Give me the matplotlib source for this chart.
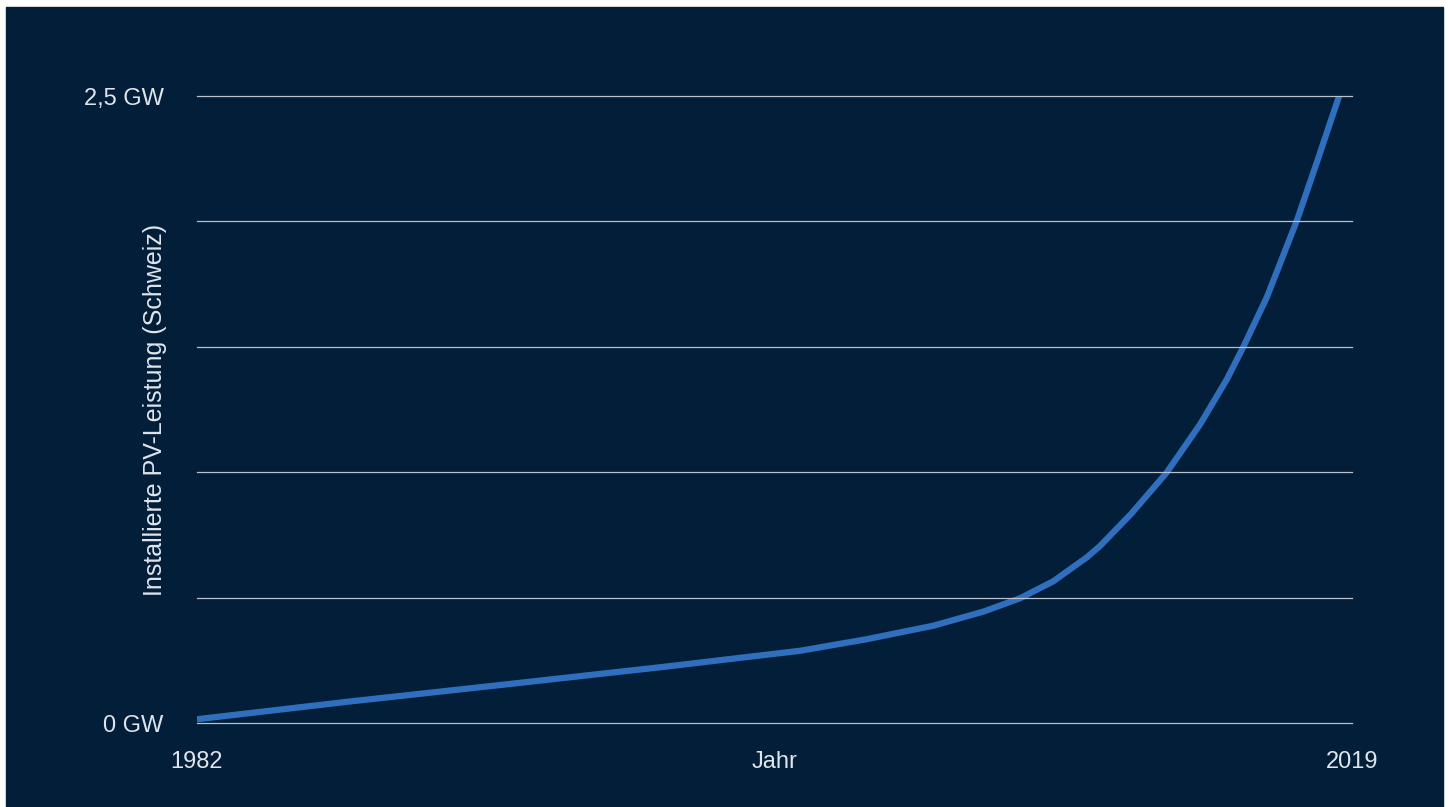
"""Installierte PV-Leistung Schweiz, 1982-2019 (stylised growth curve)."""
import matplotlib
matplotlib.use("Agg")
import matplotlib.pyplot as plt  # noqa: E402
from matplotlib.patches import Rectangle  # noqa: E402

NAVY = "#031e38"
TXT = "#dfe5ec"
GRID = "#b9c2cc"
LINE = "#2f6fbd"

# values
years = [1982.0, 1986.84, 1991.90, 1996.96, 2001.32, 2003.45, 2005.59, 2007.19,
         2008.36, 2009.43, 2010.50, 2010.93, 2011.94, 2013.06, 2014.13, 2014.99,
         2015.52, 2016.27, 2017.23, 2017.87, 2018.59]
gw = [0.015, 0.085, 0.154, 0.224, 0.288, 0.334, 0.388, 0.444,
      0.497, 0.565, 0.660, 0.706, 0.836, 0.998, 1.190, 1.370,
      1.500, 1.697, 2.002, 2.234, 2.501]

grid_vals = [0, 0.5, 1.0, 1.5, 2.0, 2.5]
ytick_vals = [0, 2.5]
ytick_labels = ["0 GW", "2,5 GW"]
xtick_vals = [1982, 2019]
xtick_labels = ["1982", "2019"]

plt.rcParams["font.family"] = ["Liberation Sans", "DejaVu Sans"]

W, H = 1449, 807
fig = plt.figure(figsize=(W / 100, H / 100), dpi=100, facecolor="white")
fig.patches.append(Rectangle((6 / W, 0), (1443 - 6) / W, (H - 7) / H,
                             transform=fig.transFigure, color=NAVY, zorder=-10))

ax = fig.add_axes([197 / W, 1 - 723 / H, (1352 - 197) / W, (723 - 96) / H])
ax.set_facecolor(NAVY)
ax.plot(years, gw, color=LINE, lw=4.5, solid_capstyle="butt",
        solid_joinstyle="round", zorder=1)

ax.set_xlim(1982, 2019); ax.set_ylim(0, 2.5)
for v in grid_vals:
    ax.axhline(v, color=GRID, lw=0.9, zorder=3, clip_on=False)

ax.set_yticks(ytick_vals, ytick_labels)
ax.set_xticks(xtick_vals, xtick_labels)
ax.tick_params(axis="both", length=0, colors=TXT, labelsize=17)
ax.tick_params(axis="y", pad=24)
ax.tick_params(axis="x", pad=20)
for s in ax.spines.values():
    s.set_visible(False)

ax.set_xlabel("Jahr", color=TXT, fontsize=17)
ax.xaxis.set_label_coords(0.5, -28 / 627)
ax.set_ylabel("Installierte PV-Leistung (Schweiz)", color=TXT, fontsize=18)
ax.yaxis.set_label_coords(-30 / 1155, 0.5)

fig.savefig("out.png", dpi=100, facecolor=fig.get_facecolor())
